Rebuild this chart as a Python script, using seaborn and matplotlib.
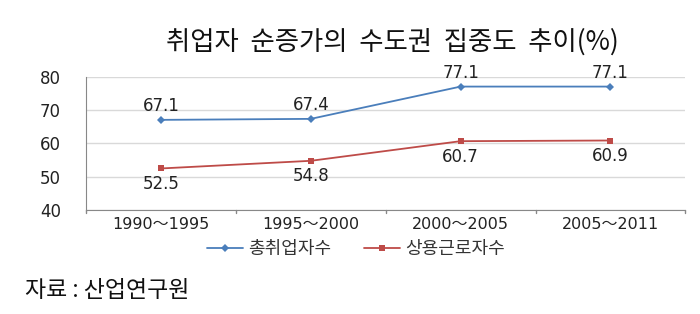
import pandas as pd
import seaborn as sns
import matplotlib.pyplot as plt

# Data
periods = ['1990～1995', '1995～2000', '2000～2005', '2005～2011']
total_emp = [67.1, 67.4, 77.1, 77.1]
regular_emp = [52.5, 54.8, 60.7, 60.9]
series_names = ['총취업자수', '상용근로자수']

df = pd.DataFrame({
    'period': periods * 2,
    'value': total_emp + regular_emp,
    'series': [series_names[0]] * 4 + [series_names[1]] * 4,
})
df['x'] = list(range(4)) * 2

sns.set_style('white')
plt.rcParams['font.family'] = ['DejaVu Sans', 'Noto Sans CJK KR']

fig = plt.figure(figsize=(7, 3.14), dpi=100)
ax = fig.add_axes([0.123, 0.331, 0.856, 0.424])

colors = {series_names[0]: '#4a7ebb', series_names[1]: '#be4b48'}
sns.lineplot(data=df, x='x', y='value', hue='series', style='series',
             markers={series_names[0]: 'D', series_names[1]: 's'},
             dashes=False, palette=colors, linewidth=1.3,
             markersize=4.5, markeredgewidth=0, ax=ax)

ax.set_xlim(-0.5, 3.5)
ax.set_ylim(40, 80)
ax.set_yticks([40, 50, 60, 70, 80])
ax.set_xticks(range(4))
ax.set_xticklabels(periods)
ax.set_xlabel('')
ax.set_ylabel('')
ax.grid(axis='y', color='#d9d9d9', linewidth=1)
ax.set_axisbelow(True)
ax.tick_params(axis='y', labelsize=12, labelcolor='#222222', length=6,
               color='#d9d9d9', pad=12)
ax.tick_params(axis='x', labelsize=11.5, labelcolor='#222222', length=0, pad=5)
for s in ['top', 'right']:
    ax.spines[s].set_visible(False)
for s in ['left', 'bottom']:
    ax.spines[s].set_color('#888888')

# band boundary ticks on x axis
for b in [-0.5, 0.5, 1.5, 2.5, 3.5]:
    ax.plot([b, b], [40, 39], color='#888888', lw=1, clip_on=False)

# value labels
for i, v in enumerate(total_emp):
    ax.text(i, v + 1.5, f'{v}', ha='center', va='bottom', fontsize=12, color='#222222')
for i, v in enumerate(regular_emp):
    ax.text(i, v - 2.0, f'{v}', ha='center', va='top', fontsize=12, color='#222222')

leg = ax.legend(loc='center', bbox_to_anchor=(0.45, -0.295), ncol=2,
                frameon=False, handlelength=2.0, handletextpad=0.3,
                columnspacing=1.8, borderpad=0.1,
                prop={'family': 'Noto Sans CJK KR', 'size': 13})
for t in leg.get_texts():
    t.set_color('#333333')

fig.text(0.56, 0.865, '취업자  순증가의  수도권  집중도  추이(%)', ha='center', va='center',
         fontsize=19, color='#111111', fontweight='light',
         family=['Noto Sans CJK KR', 'DejaVu Sans'])
fig.text(0.035, 0.075, '자료 : 산업연구원', ha='left', va='center', fontsize=16.5,
         color='#111111', family=['Noto Sans CJK KR', 'DejaVu Sans'])

fig.savefig('out.png', dpi=100)
